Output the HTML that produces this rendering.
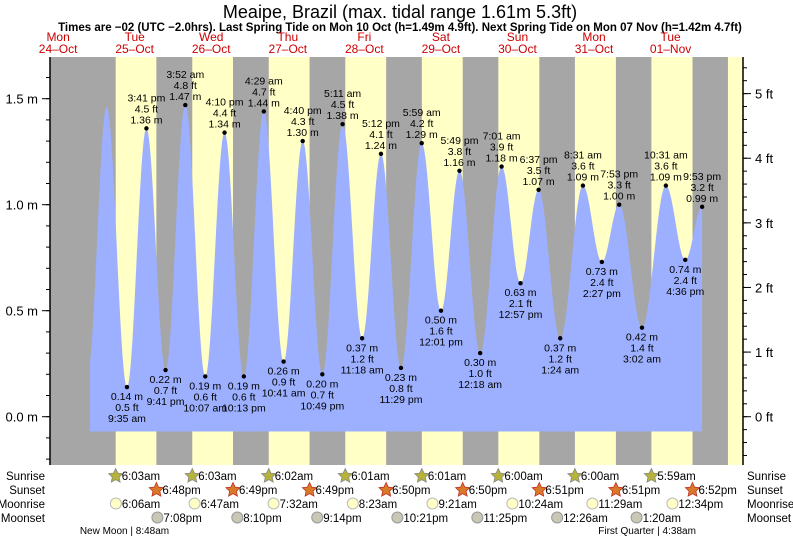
<!DOCTYPE html>
<html><head><meta charset="utf-8"><style>
body{margin:0;background:#fff;}
svg{display:block;font-family:"Liberation Sans",sans-serif;}
</style></head><body>
<svg id="c" width="793" height="539">
<text x="400" y="18" text-anchor="middle" font-size="18">Meaipe, Brazil (max. tidal range 1.61m 5.3ft)</text>
<text x="400" y="31" text-anchor="middle" font-size="11.5" font-weight="bold">Times are −02 (UTC −2.0hrs). Last Spring Tide on Mon 10 Oct (h=1.49m 4.9ft). Next Spring Tide on Mon 07 Nov (h=1.42m 4.7ft)</text>
<g id="bands"></g><g id="tide"></g><g id="axes"></g><g id="labels"></g><g id="bottom"></g>
</svg>
<script>
// tide extremes: hours since Mon 24-Oct 00:00, heights (m), time labels
const tideT=[21.3,27.2,33.58,39.68,45.68,51.87,58.12,64.17,70.22,76.48,82.68,88.67,94.82,101.18,107.3,113.2,119.48,125.98,132.02,137.82,144.3,151.02,156.95,162.62,169.4,176.52,182.45,187.88,195.03,202.52,208.6,213.88];
const tideH=[0.22,1.46,0.14,1.36,0.22,1.47,0.19,1.34,0.19,1.44,0.26,1.30,0.20,1.38,0.37,1.24,0.23,1.29,0.50,1.16,0.30,1.18,0.63,1.07,0.37,1.09,0.73,1.00,0.42,1.09,0.74,0.99];
const tideLbl=["","","9:35 am","3:41 pm","9:41 pm","3:52 am","10:07 am","4:10 pm","10:13 pm","4:29 am","10:41 am","4:40 pm","10:49 pm","5:11 am","11:18 am","5:12 pm","11:29 pm","5:59 am","12:01 pm","5:49 pm","12:18 am","7:01 am","12:57 pm","6:37 pm","1:24 am","8:31 am","2:27 pm","7:53 pm","3:02 am","10:31 am","4:36 pm","9:53 pm"];
const dayNames=["Mon","Tue","Wed","Thu","Fri","Sat","Sun","Mon","Tue"];
const dayDates=["24\u2013Oct","25\u2013Oct","26\u2013Oct","27\u2013Oct","28\u2013Oct","29\u2013Oct","30\u2013Oct","31\u2013Oct","01\u2013Nov"];
const sunriseT=[30.05,54.05,78.03,102.02,126.02,150.0,174.0,197.98,221.98];
const sunriseLbl=["6:03am","6:03am","6:02am","6:01am","6:01am","6:00am","6:00am","5:59am",""];
const sunsetT=[42.8,66.82,90.82,114.83,138.83,162.85,186.85,210.87];
const sunsetLbl=["6:48pm","6:49pm","6:49pm","6:50pm","6:50pm","6:51pm","6:51pm","6:52pm"];
const moonriseT=[30.1,54.78,79.53,104.38,129.35,154.4,179.48,204.57];
const moonriseLbl=["6:06am","6:47am","7:32am","8:23am","9:21am","10:24am","11:29am","12:34pm"];
const moonsetT=[43.13,68.17,93.23,118.35,143.42,168.43,193.33];
const moonsetLbl=["7:08pm","8:10pm","9:14pm","10:21pm","11:25pm","12:26am","1:20am"];
const yTicksM=[0.0,0.5,1.0,1.5];
const yTicksFt=[0,1,2,3,4,5];

const NS="http://www.w3.org/2000/svg";
const X0=50,X1=743,Y0=57,Y1=465;
const xS=t=>19.84+3.19*t;
const yS=h=>416.7-212*h;
function mk(p,tag,a,txt){const e=document.createElementNS(NS,tag);for(const k in a)e.setAttribute(k,a[k]);if(txt!==undefined)e.textContent=txt;document.getElementById(p).appendChild(e);return e;}

let e=mk('bands','rect',{x:X0,y:Y0,width:X1-X0,height:Y1-Y0,fill:'#a6a6a6'});


for(let i=0;i<sunriseT.length;i++){
  const a=xS(sunriseT[i]);const b=i<sunsetT.length?xS(sunsetT[i]):X1;
  e=mk('bands','rect',{x:a,y:Y0,width:Math.min(b,X1)-a,height:Y1-Y0,fill:'#ffffc6'});
  
  
}
function hAt(t){for(let i=0;i<tideT.length-1;i++){if(t>=tideT[i]&&t<=tideT[i+1]){const f=(t-tideT[i])/(tideT[i+1]-tideT[i]);return tideH[i]+(tideH[i+1]-tideH[i])*(1-Math.cos(Math.PI*f))/2;}}return tideH[tideH.length-1];}
const tS=(90-19.84)/3.19, tE=tideT[tideT.length-1];
const base=yS(-0.07);
let d='M'+xS(tS)+','+base;
for(let t=tS;t<=tE;t+=0.1)d+=' L'+xS(t).toFixed(2)+','+yS(hAt(t)).toFixed(2);
d+=' L'+xS(tE)+','+yS(hAt(tE))+' L'+xS(tE)+','+base+'Z';
e=mk('tide','path',{d:d,fill:'#9cb0ff'});


for(let i=2;i<tideT.length;i++){
  const x=xS(tideT[i]),y=yS(tideH[i]),h=tideH[i];
  const hi=h>tideH[i-1];
  e=mk('labels','circle',{cx:x,cy:y,r:2.2,fill:'#000'});
  
  
  const lines=[h.toFixed(2)+' m',(h/0.3048).toFixed(1)+' ft',tideLbl[i]];
  const g=mk('labels','g',{});
  
  
  lines.forEach((s,k)=>{
    const yy=hi?y-5-k*11:y+13+k*11;
    const t=document.createElementNS(NS,'text');t.setAttribute('x',x);t.setAttribute('y',yy);t.setAttribute('text-anchor','middle');t.setAttribute('font-size','10.5');t.textContent=s;g.appendChild(t);
  });
}
e=mk('axes','line',{x1:X0,y1:Y0,x2:X0,y2:Y1,stroke:'#000','stroke-width':1.5});


e=mk('axes','line',{x1:X1,y1:Y0,x2:X1,y2:Y1,stroke:'#000','stroke-width':1.5});


for(let v=-0.2;v<=1.71;v+=0.1){const y=yS(v);if(y<Y0||y>Y1)continue;mk('axes','line',{x1:X0-4,y1:y,x2:X0,y2:y,stroke:'#000'});}
yTicksM.forEach(v=>{const y=yS(v);mk('axes','line',{x1:X0-8,y1:y,x2:X0,y2:y,stroke:'#000'});
  e=mk('axes','text',{x:X0-12,y:y+5,'text-anchor':'end','font-size':13},v.toFixed(1)+' m');
  
  });
for(let f=-0.8;f<=5.7;f+=0.2){const y=yS(f*0.3048);if(y<Y0||y>Y1)continue;mk('axes','line',{x1:X1,y1:y,x2:X1+4,y2:y,stroke:'#000'});}
yTicksFt.forEach(f=>{const y=yS(f*0.3048);mk('axes','line',{x1:X1,y1:y,x2:X1+8,y2:y,stroke:'#000'});
  e=mk('axes','text',{x:X1+12,y:y+5,'font-size':13},f+' ft');
  
  });
dayNames.forEach((n,i)=>{const x=xS(12+24*i);
  e=mk('axes','text',{x:x,y:41,'text-anchor':'middle','font-size':12,fill:'#cc0000'},n);
  
  
  e=mk('axes','text',{x:x,y:53,'text-anchor':'middle','font-size':12,fill:'#cc0000'},dayDates[i]);
  
  });
const rows=[['Sunrise',480],['Sunset',494],['Moonrise',508],['Moonset',522]];
rows.forEach(r=>{
  e=mk('bottom','text',{x:45,y:r[1],'text-anchor':'end','font-size':11.5},r[0]);
  
  
  e=mk('bottom','text',{x:747,y:r[1],'font-size':11.5},r[0]);
  
  });
function star(cx,cy,fill,stroke){let p='';for(let k=0;k<10;k++){const a=-Math.PI/2+k*Math.PI/5,r=k%2?3.6:7.5;p+=(cx+r*Math.cos(a)).toFixed(1)+','+(cy+r*Math.sin(a)).toFixed(1)+' ';}return mk('bottom','polygon',{points:p,fill:fill,stroke:stroke,'stroke-width':0.8});}
sunriseT.forEach((t,i)=>{if(!sunriseLbl[i])return;const x=xS(t);
  e=star(x,476,'#b5b33a','#888');
  e=mk('bottom','text',{x:x+6,y:480,'font-size':11.5},sunriseLbl[i]);});
sunsetT.forEach((t,i)=>{const x=xS(t);
  e=star(x,490,'#d97a2b','#c03020');
  e=mk('bottom','text',{x:x+6,y:494,'font-size':11.5},sunsetLbl[i]);});
moonriseT.forEach((t,i)=>{const x=xS(t);
  e=mk('bottom','circle',{cx:x,cy:503.5,r:5.5,fill:'#ffffc6',stroke:'#bbb'});
  e=mk('bottom','text',{x:x+6,y:508,'font-size':11.5},moonriseLbl[i]);});
moonsetT.forEach((t,i)=>{const x=xS(t);
  e=mk('bottom','circle',{cx:x,cy:517.5,r:5.5,fill:'#c8c8b4',stroke:'#999'});
  e=mk('bottom','text',{x:x+6,y:522,'font-size':11.5},moonsetLbl[i]);});
e=mk('bottom','text',{x:xS(32.8),y:534,'text-anchor':'middle','font-size':10},'New Moon | 8:48am');

e=mk('bottom','text',{x:xS(196.63),y:534,'text-anchor':'middle','font-size':10},'First Quarter | 4:38am');

</script>
</body></html>
